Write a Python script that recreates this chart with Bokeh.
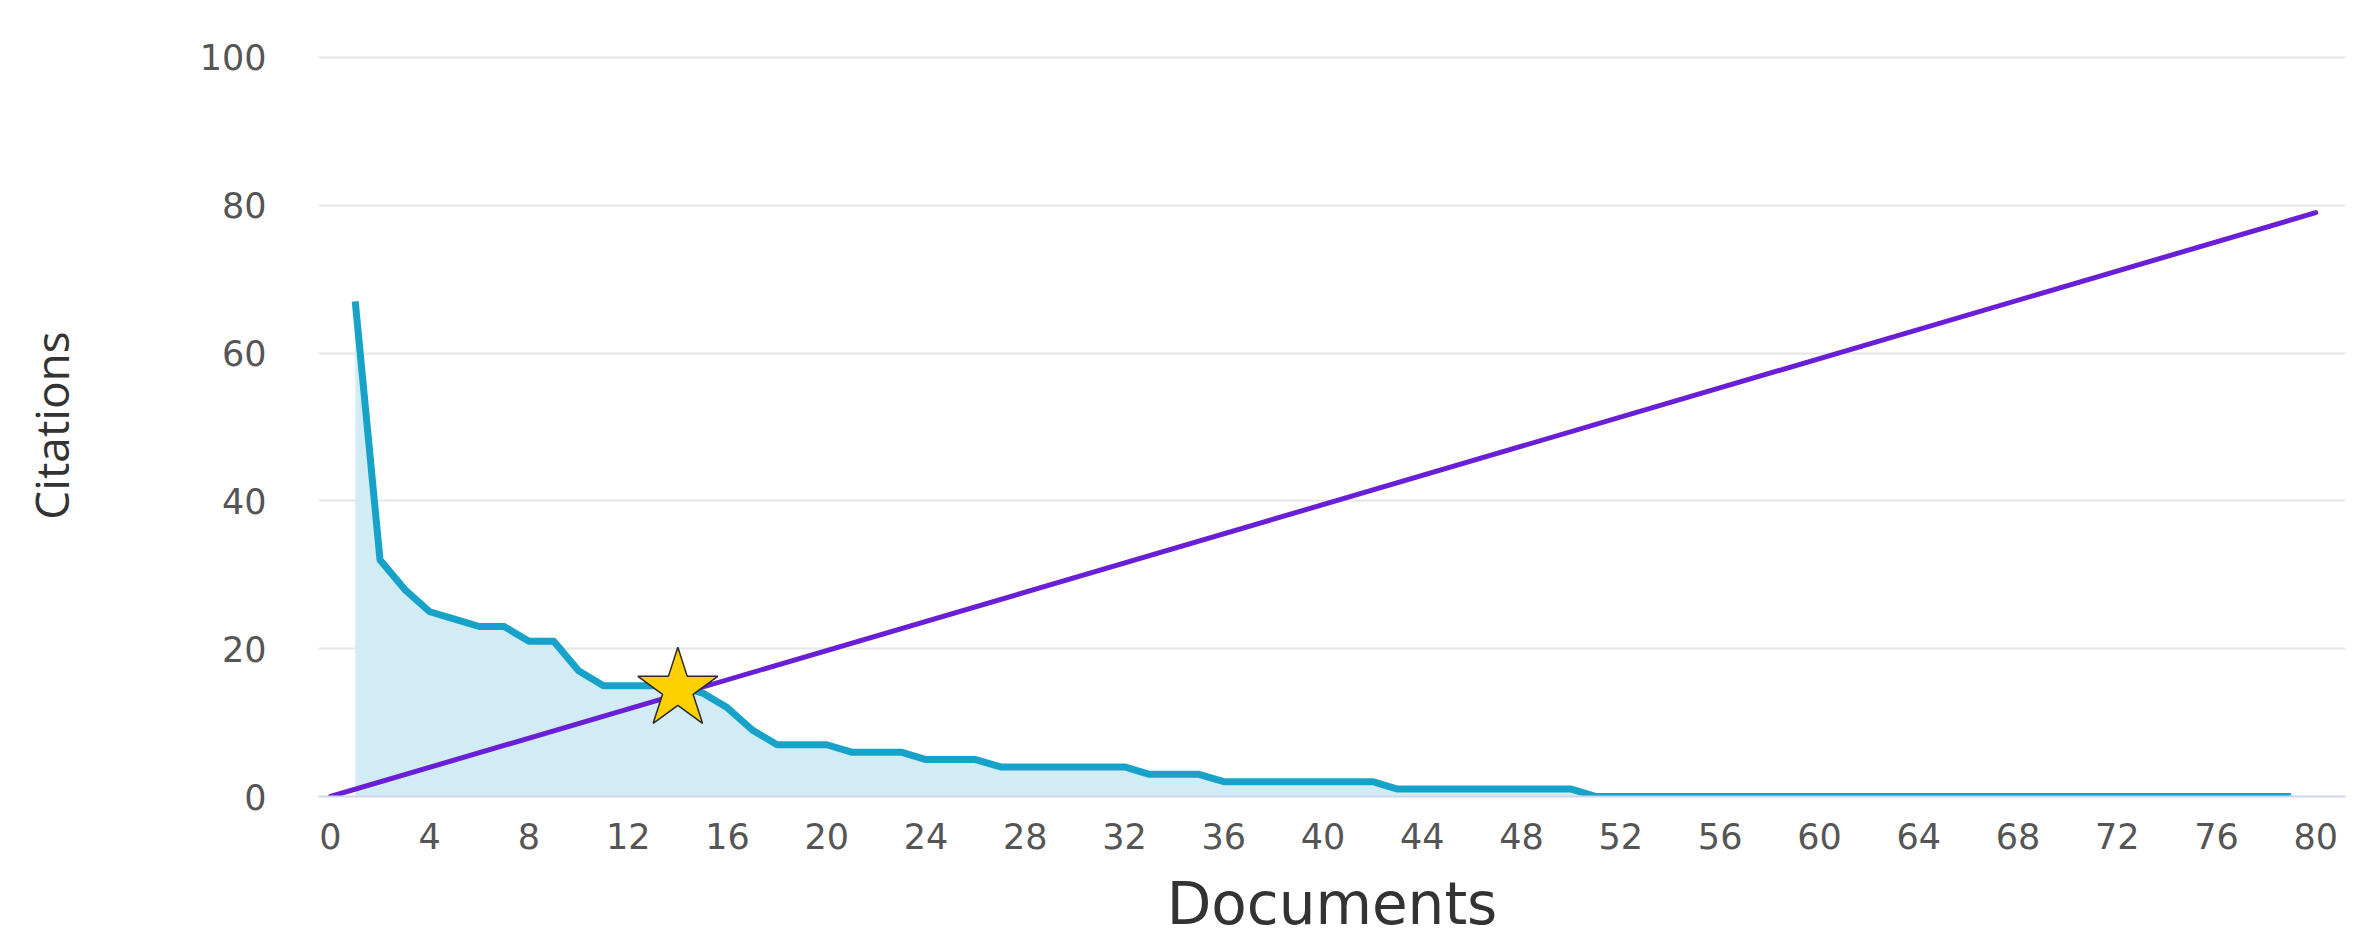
from bokeh.plotting import figure
from bokeh.models import FixedTicker, Range1d, ColumnDataSource
from bokeh.embed import file_html
from bokeh.resources import INLINE

# ---- data ----
documents = list(range(1, 80))
citations = [67, 32, 28, 25, 24, 23, 23, 21, 21, 17,
             15, 15, 15, 15, 14, 12, 9, 7, 7, 7,
             6, 6, 6, 5, 5, 5, 4, 4, 4, 4,
             4, 4, 3, 3, 3, 2, 2, 2, 2, 2,
             2, 2, 1, 1, 1, 1, 1, 1, 1, 1] + [0] * 29
diag_x = [0, 80]
diag_y = [0, 79]
h_index_x = [14]
h_index_y = [14.5]
x_ticks = list(range(0, 81, 4))
y_ticks = [0, 20, 40, 60, 80, 100]
x_title = "Documents"
y_title = "Citations"

src = ColumnDataSource(dict(x=documents, y=citations, base=[0] * len(documents)))

p = figure(width=2375, height=940, output_backend="svg", toolbar_location=None,
           x_range=Range1d(-0.48, 81.2), y_range=Range1d(0, 100.4),
           min_border_left=318, min_border_right=30, min_border_top=54, min_border_bottom=143)
p.outline_line_color = None
p.background_fill_color = "white"
p.border_fill_color = "white"

p.varea(x="x", y1="base", y2="y", source=src, fill_color="#d2ecf5", fill_alpha=1.0)
p.line(x="x", y="y", source=src, line_color="#16a2c9", line_width=7, line_join="round")
p.line(diag_x, diag_y, line_color="#6a1fd6", line_width=5, line_cap="round")
p.scatter(h_index_x, h_index_y, marker="star", size=84, fill_color="#fdd000",
          line_color="#2a2a2a", line_width=1.5)

# grid
p.xgrid.grid_line_color = None
p.ygrid.grid_line_color = "#e6e6e6"
p.ygrid.grid_line_width = 2

# x axis
xa = p.xaxis[0]
xa.ticker = FixedTicker(ticks=x_ticks)
xa.axis_line_color = "#ccd6eb"
xa.axis_line_width = 2
xa.major_tick_line_color = None
xa.minor_tick_line_color = None
xa.major_label_text_font = "DejaVu Sans"
xa.major_label_text_font_size = "35px"
xa.major_label_text_color = "#555555"
xa.major_label_standoff = 20
xa.axis_label = x_title
xa.axis_label_text_font = "DejaVu Sans"
xa.axis_label_text_font_size = "58px"
xa.axis_label_text_font_style = "normal"
xa.axis_label_text_color = "#333333"
xa.axis_label_standoff = 18

# y axis
ya = p.yaxis[0]
ya.ticker = FixedTicker(ticks=y_ticks)
ya.axis_line_color = None
ya.major_tick_line_color = None
ya.minor_tick_line_color = None
ya.major_label_text_font = "DejaVu Sans"
ya.major_label_text_font_size = "35px"
ya.major_label_text_color = "#555555"
ya.major_label_standoff = 46
ya.axis_label = y_title
ya.axis_label_text_font = "Open Sans"
ya.axis_label_text_font_size = "46px"
ya.axis_label_text_font_style = "normal"
ya.axis_label_text_color = "#333333"
ya.axis_label_standoff = 115

open("out.html", "w").write(file_html(p, INLINE))
